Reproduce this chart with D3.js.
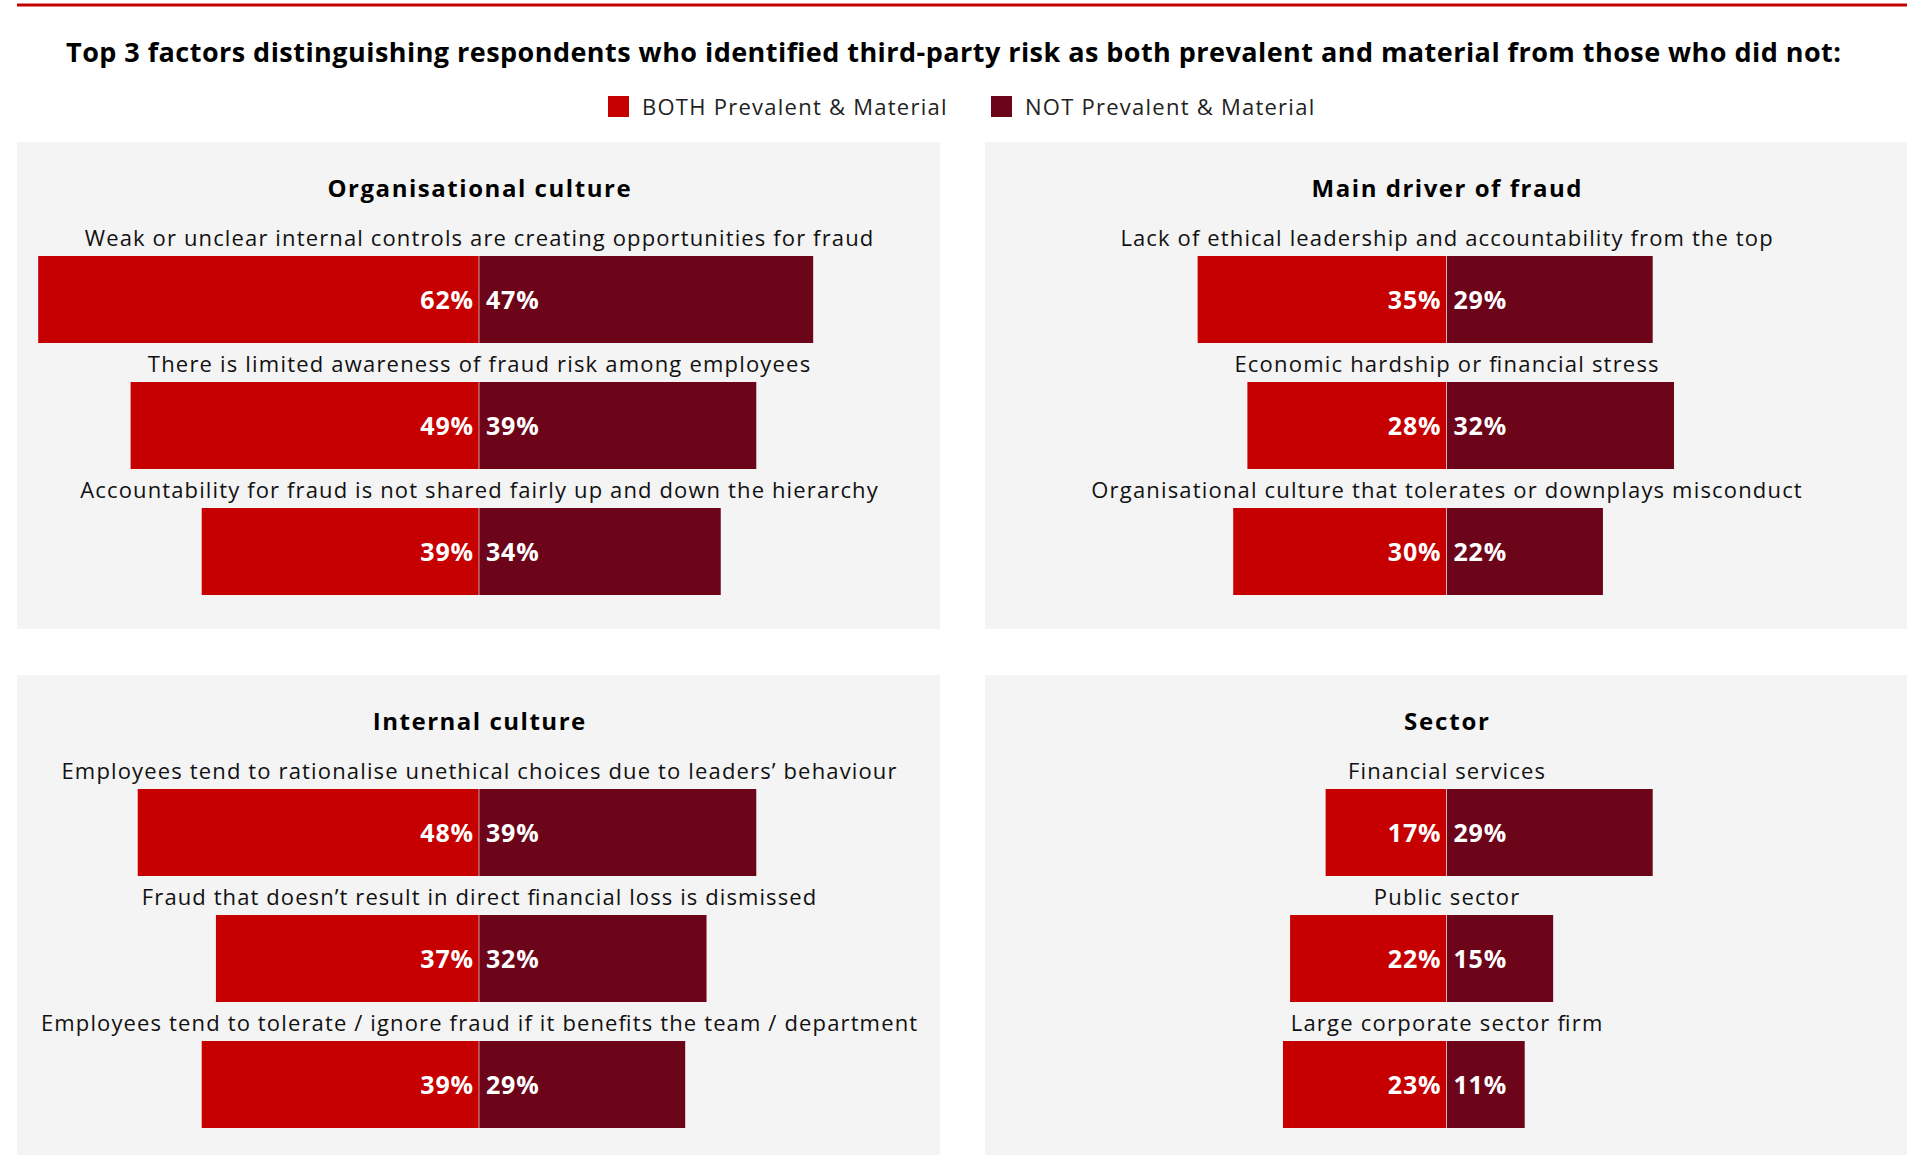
<!DOCTYPE html>
<html>
<head>
<meta charset="utf-8">
<script src="https://cdn.jsdelivr.net/npm/d3@7"></script>
<style>
  html, body { margin: 0; padding: 0; background: #fff; }
  svg { display: block; }
  text { font-family: "Open Sans", "Noto Sans", sans-serif; }
</style>
</head>
<body>
<svg id="chart" width="1907" height="1155"></svg>
<script>
// ---- data ----
const chartTitle = "Top 3 factors distinguishing respondents who identified third-party risk as both prevalent and material from those who did not:";
const seriesNames = ["BOTH Prevalent & Material", "NOT Prevalent & Material"];

const panelTitles = ["Organisational culture", "Main driver of fraud", "Internal culture", "Sector"];

const factorLabels = [
  ["Weak or unclear internal controls are creating opportunities for fraud",
   "There is limited awareness of fraud risk among employees",
   "Accountability for fraud is not shared fairly up and down the hierarchy"],
  ["Lack of ethical leadership and accountability from the top",
   "Economic hardship or financial stress",
   "Organisational culture that tolerates or downplays misconduct"],
  ["Employees tend to rationalise unethical choices due to leaders’ behaviour",
   "Fraud that doesn’t result in direct financial loss is dismissed",
   "Employees tend to tolerate / ignore fraud if it benefits the team / department"],
  ["Financial services",
   "Public sector",
   "Large corporate sector firm"]
];

const bothValues = [
  [62, 49, 39],
  [35, 28, 30],
  [48, 37, 39],
  [17, 22, 23]
];

const notValues = [
  [47, 39, 34],
  [29, 32, 22],
  [39, 32, 29],
  [29, 15, 11]
];

// ---- styling ----
const colors = { both: "#c60000", not: "#6c0519", panel: "#f4f4f4", text: "#111" };

// stretch a text's tracking so it reads as wide as the house typeface
function track(sel, factor) {
  sel.each(function () {
    const w = this.getComputedTextLength();
    d3.select(this).attr("textLength", w * factor).attr("lengthAdjust", "spacing");
  });
}

const svg = d3.select("#chart");
svg.append("rect").attr("width", 1907).attr("height", 1155).attr("fill", "#fff");

// top rule
svg.append("rect").attr("x", 17).attr("y", 3.5).attr("width", 1890).attr("height", 3).attr("fill", colors.both);

// title
svg.append("text")
  .attr("x", 953.5).attr("y", 51)
  .attr("text-anchor", "middle").attr("dominant-baseline", "central")
  .attr("font-size", 27).attr("font-weight", 700).attr("fill", "#000")
  .text(chartTitle)
  .call(track, 1.033);

// legend
const legendItems = [
  { name: seriesNames[0], color: colors.both, x: 608 },
  { name: seriesNames[1], color: colors.not, x: 991 }
];
const lg = svg.append("g").selectAll("g").data(legendItems).join("g")
  .attr("transform", d => `translate(${d.x},96)`);
lg.append("rect").attr("width", 21).attr("height", 21).attr("fill", d => d.color);
lg.append("text").attr("x", 34).attr("y", 10)
  .attr("dominant-baseline", "central").attr("font-size", 22).attr("fill", "#222")
  .text(d => d.name)
  .call(track, 1.11);

// panels layout
const panelBoxes = [
  { x: 17, y: 142, w: 923, h: 487 },
  { x: 985, y: 142, w: 922, h: 487 },
  { x: 17, y: 675, w: 923, h: 480 },
  { x: 985, y: 675, w: 922, h: 480 }
];

const x = d3.scaleLinear().domain([0, 100]).range([0, 711]);
const rowStep = 126, barH = 87;

panelBoxes.forEach((box, i) => {
  const g = svg.append("g").attr("transform", `translate(${box.x},${box.y})`);
  const cx = box.w / 2 + 0.5;

  g.append("rect").attr("width", box.w).attr("height", box.h).attr("fill", colors.panel);

  g.append("text")
    .attr("x", cx).attr("y", 45)
    .attr("text-anchor", "middle").attr("dominant-baseline", "central")
    .attr("font-size", 24).attr("font-weight", 700).attr("fill", "#000")
    .text(panelTitles[i])
    .call(track, 1.12);

  const rows = factorLabels[i].map((label, j) => ({
    label, both: bothValues[i][j], not: notValues[i][j], j
  }));

  const y = d3.scaleLinear().domain([0, 1]).range([114, 114 + rowStep]);

  const row = g.selectAll("g.row").data(rows).join("g")
    .attr("class", "row")
    .attr("transform", d => `translate(0,${y(d.j)})`);

  row.append("text")
    .attr("x", cx).attr("y", -19)
    .attr("text-anchor", "middle").attr("dominant-baseline", "central")
    .attr("font-size", 22).attr("fill", colors.text)
    .text(d => d.label)
    .call(track, 1.11);

  row.append("rect")
    .attr("x", d => cx - x(d.both)).attr("y", 0)
    .attr("width", d => x(d.both)).attr("height", barH)
    .attr("fill", colors.both);

  row.append("rect")
    .attr("x", cx).attr("y", 0)
    .attr("width", d => x(d.not)).attr("height", barH)
    .attr("fill", colors.not);

  row.append("line")
    .attr("x1", cx).attr("x2", cx).attr("y1", 0).attr("y2", barH)
    .attr("stroke", "#fff").attr("stroke-opacity", 0.6).attr("stroke-width", 1);

  row.append("text")
    .attr("x", cx - 6).attr("y", barH / 2 - 1)
    .attr("text-anchor", "end").attr("dominant-baseline", "central")
    .attr("font-size", 25).attr("font-weight", 700).attr("fill", "#fff")
    .text(d => d.both + "%")
    .call(track, 1.03);

  row.append("text")
    .attr("x", cx + 7).attr("y", barH / 2 - 1)
    .attr("text-anchor", "start").attr("dominant-baseline", "central")
    .attr("font-size", 25).attr("font-weight", 700).attr("fill", "#fff")
    .text(d => d.not + "%")
    .call(track, 1.03);
});
</script>
</body>
</html>
